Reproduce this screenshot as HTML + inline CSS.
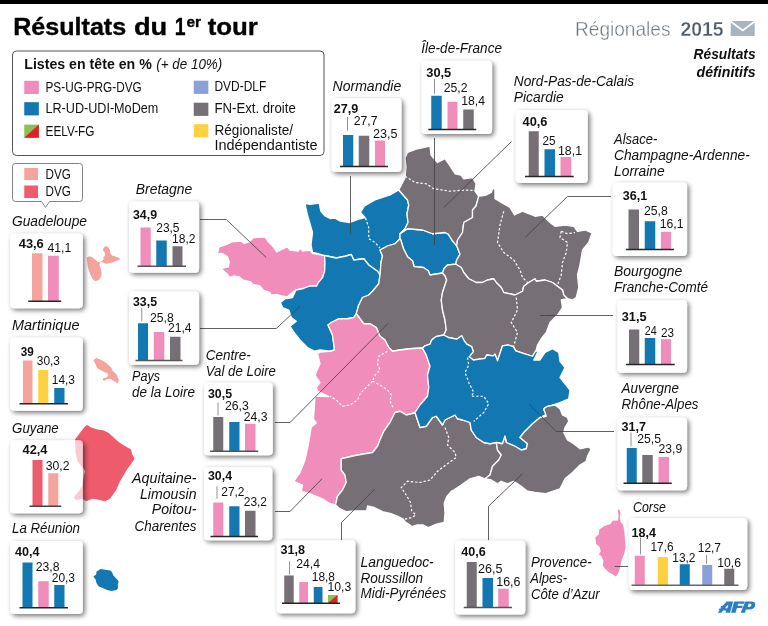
<!DOCTYPE html><html><head><meta charset="utf-8"><title>R&#233;sultats du 1er tour</title>
<style>html,body{margin:0;padding:0;background:#fff}svg{display:block;will-change:transform}text{font-family:"Liberation Sans",sans-serif}</style></head><body>
<svg width="768" height="626" viewBox="0 0 768 626">
<defs><filter id="sh" x="-20%" y="-20%" width="140%" height="140%"><feGaussianBlur in="SourceAlpha" stdDeviation="2.8"/><feOffset dx="1.6" dy="1.8"/><feComponentTransfer><feFuncA type="linear" slope="0.55"/></feComponentTransfer><feMerge><feMergeNode/><feMergeNode in="SourceGraphic"/></feMerge></filter></defs>
<rect width="768" height="626" fill="#fff"/>
<rect width="768" height="4" fill="#000"/>
<text x="13.2" y="35.3" font-size="24.6" font-weight="bold" textLength="113" lengthAdjust="spacingAndGlyphs" fill="#000" stroke="#000" stroke-width="0.35">Résultats</text>
<text x="133.9" y="35.3" font-size="24.6" font-weight="bold" textLength="33.3" lengthAdjust="spacingAndGlyphs" fill="#000" stroke="#000" stroke-width="0.35">du</text>
<text x="174.7" y="35.3" font-size="24.6" font-weight="bold" textLength="10.8" lengthAdjust="spacingAndGlyphs" fill="#000" stroke="#000" stroke-width="0.35">1</text>
<text x="186.5" y="27.2" font-size="15" font-weight="bold" textLength="14.6" lengthAdjust="spacingAndGlyphs" fill="#000" stroke="#000" stroke-width="0.35">er</text>
<text x="207.7" y="35.3" font-size="24.6" font-weight="bold" textLength="50.2" lengthAdjust="spacingAndGlyphs" fill="#000" stroke="#000" stroke-width="0.35">tour</text>
<text x="575" y="36" font-size="21" textLength="95.5" lengthAdjust="spacingAndGlyphs" fill="#6c757d" stroke="#fff" stroke-width="0.4">Régionales</text>
<text x="680.5" y="36" font-size="21" font-weight="bold" textLength="43" lengthAdjust="spacingAndGlyphs" fill="#525d67" stroke="#fff" stroke-width="0.3">2015</text>
<rect x="730.7" y="21" width="24" height="15" fill="#a9b4bf"/><path d="M730.7 21.5 L742.7 30.5 L754.7 21.5" fill="none" stroke="#fff" stroke-width="1.6"/>
<text x="755.6" y="59" font-size="14" font-weight="bold" font-style="italic" textLength="62" lengthAdjust="spacingAndGlyphs" text-anchor="end" fill="#111">Résultats</text>
<text x="755.6" y="76.7" font-size="14" font-weight="bold" font-style="italic" textLength="59" lengthAdjust="spacingAndGlyphs" text-anchor="end" fill="#111">définitifs</text>
<rect x="12.5" y="51" width="311.5" height="104.5" rx="4" fill="#fff" stroke="#555" stroke-width="1"/>
<text x="24.25" y="69.25" font-size="14.5" font-weight="bold" textLength="127.5" lengthAdjust="spacingAndGlyphs" fill="#111">Listes en tête en %</text>
<text x="156.25" y="69.25" font-size="14.5" font-style="italic" textLength="66" lengthAdjust="spacingAndGlyphs" fill="#111">(+ de 10%)</text>
<rect x="24.25" y="80.8" width="14.6" height="13.2" fill="#f18dbb"/>
<rect x="24.25" y="102.2" width="14.6" height="13.2" fill="#1378b2"/>
<rect x="24.25" y="124.6" width="14.6" height="13.2" fill="#8cc152"/><path d="M24.25 137.8 L38.85 124.6 L38.85 137.8 Z" fill="#e2202c"/>
<rect x="193.75" y="80.7" width="14.6" height="13.2" fill="#8b9fd8"/>
<rect x="193.75" y="102.7" width="14.6" height="13.2" fill="#767076"/>
<rect x="193.75" y="124.2" width="14.6" height="13.2" fill="#fdd13f"/>
<text x="45.5" y="92" font-size="14" textLength="96.25" lengthAdjust="spacingAndGlyphs" fill="#111">PS-UG-PRG-DVG</text>
<text x="45.5" y="112.5" font-size="14" textLength="112.75" lengthAdjust="spacingAndGlyphs" fill="#111">LR-UD-UDI-MoDem</text>
<text x="45.5" y="135.75" font-size="14" textLength="49" lengthAdjust="spacingAndGlyphs" fill="#111">EELV-FG</text>
<text x="214.5" y="91.25" font-size="14" textLength="51.75" lengthAdjust="spacingAndGlyphs" fill="#111">DVD-DLF</text>
<text x="214.5" y="113" font-size="14" textLength="81.25" lengthAdjust="spacingAndGlyphs" fill="#111">FN-Ext. droite</text>
<text x="214.5" y="135" font-size="14" textLength="78.5" lengthAdjust="spacingAndGlyphs" fill="#111">Régionaliste/</text>
<text x="214.5" y="149.5" font-size="14" textLength="103" lengthAdjust="spacingAndGlyphs" fill="#111">Indépendantiste</text>
<path d="M15.5 163.5 H79.5 Q82.5 163.5 82.5 166.5 V198.5 Q82.5 201.5 79.5 201.5 H49.5 L45.5 207.5 L41.5 201.5 H15.5 Q12.5 201.5 12.5 198.5 V166.5 Q12.5 163.5 15.5 163.5 Z" fill="#fff" stroke="#777" stroke-width="0.9"/>
<rect x="24.25" y="168" width="13.75" height="12" fill="#f5a49d"/>
<rect x="24.25" y="185.5" width="13.75" height="12.5" fill="#ee5b6c"/>
<text x="45.5" y="178.75" font-size="14" textLength="25.25" lengthAdjust="spacingAndGlyphs" fill="#111">DVG</text>
<text x="45.5" y="196.25" font-size="14" textLength="25.25" lengthAdjust="spacingAndGlyphs" fill="#111">DVG</text>
<g stroke="#fff" stroke-width="1.3" stroke-linejoin="round">
<polygon fill="#f18dbb" points="217.50,252.70 219.20,246.80 226.70,244.30 231.70,241.80 240.80,241.00 244.20,243.50 249.20,241.80 253.30,237.70 265.00,236.80 268.30,241.80 273.30,246.80 276.70,251.80 281.70,249.30 287.50,246.80 290.00,250.20 298.30,251.00 300.00,248.00 302.50,251.00 310.00,250.20 312.50,253.50 318.30,254.30 324.50,255.50 325.00,262.70 324.70,271.00 322.50,277.70 318.30,282.70 316.70,286.00 310.00,286.00 303.30,288.50 296.00,290.00 290.00,294.30 287.50,296.80 281.70,296.00 276.70,294.30 270.80,295.20 270.00,292.70 263.30,290.20 260.00,286.00 252.50,284.30 250.80,281.80 243.30,280.20 239.20,276.80 233.30,276.00 230.00,277.70 226.70,273.50 220.80,268.50 228.30,266.80 229.20,261.80 227.50,256.80 222.50,253.50 217.50,254.00"/>
<polygon fill="#1378b2" points="304.70,203.00 310.00,204.40 319.20,203.00 320.80,211.00 325.00,216.00 330.00,218.50 335.00,218.20 340.00,221.00 350.00,222.50 360.00,218.75 365.00,217.50 360.50,212.50 364.50,206.00 375.00,200.00 390.00,195.00 398.75,190.00 407.50,200.00 408.75,205.00 407.00,213.75 408.00,222.50 405.00,228.75 400.00,233.75 400.00,238.75 395.00,243.75 387.50,246.00 380.00,250.00 382.50,256.00 381.00,262.50 380.00,275.00 377.50,271.25 368.75,265.00 363.75,258.75 353.75,260.00 351.25,254.50 345.00,256.25 336.25,258.00 324.50,255.50 318.75,253.75 312.50,252.50 311.00,245.00 312.50,232.50 307.50,215.00"/>
<polygon fill="#1378b2" points="400.00,233.75 407.50,228.75 422.50,230.00 432.50,233.75 445.00,232.50 448.30,234.20 452.50,240.80 456.70,245.80 460.00,254.20 456.70,260.00 455.80,264.20 447.50,265.00 444.20,268.30 442.50,273.00 430.00,275.00 428.30,270.80 423.30,267.50 414.20,266.70 412.50,260.80 407.50,256.70 403.30,248.30 400.80,240.00 400.00,238.75"/>
<polygon fill="#767076" points="407.50,152.50 417.50,148.75 430.00,146.00 431.00,155.00 437.50,162.50 445.00,158.75 450.00,166.00 455.00,173.75 461.00,175.00 463.75,178.75 472.50,177.50 476.00,183.75 475.00,191.00 478.75,196.25 476.00,206.00 472.50,210.00 472.50,217.50 463.75,222.50 462.50,232.50 457.50,240.00 456.70,245.80 452.50,240.80 448.30,234.20 445.00,232.50 432.50,233.75 422.50,230.00 407.50,228.75 400.00,233.75 405.00,228.75 408.00,222.50 407.00,213.75 408.75,205.00 407.50,200.00 398.75,190.00 405.00,178.00 406.00,167.00 405.00,158.00"/>
<polygon fill="#767076" points="478.75,196.25 486.25,195.00 491.25,192.50 493.00,187.50 495.00,190.00 495.00,198.75 501.25,202.50 510.00,207.50 514.50,215.00 522.50,211.25 535.00,216.25 542.50,215.00 550.00,222.50 555.00,226.25 565.00,225.00 573.75,226.25 577.50,231.25 585.00,230.00 592.00,233.00 588.75,242.50 582.50,250.00 580.00,265.00 577.50,275.00 578.75,287.50 576.25,297.50 572.50,300.00 567.50,298.75 563.75,295.00 562.50,290.00 552.50,282.50 545.00,280.00 536.25,281.25 535.00,278.75 528.75,282.50 523.75,286.25 522.50,291.25 515.00,295.00 503.75,292.50 501.25,287.50 496.25,282.50 493.75,278.75 487.50,280.00 482.50,282.50 476.25,282.50 468.75,278.75 463.75,272.50 461.25,267.50 455.80,264.20 456.70,260.00 460.00,254.20 456.70,245.80 457.50,240.00 462.50,232.50 463.75,222.50 472.50,217.50 472.50,210.00 476.00,206.00"/>
<polygon fill="#1378b2" points="324.50,255.50 336.25,258.00 345.00,256.25 351.25,254.50 353.75,260.00 363.75,258.75 368.75,265.00 377.50,271.25 380.00,275.00 378.75,283.75 372.50,291.25 368.75,295.00 362.50,297.50 358.75,305.00 356.25,313.75 353.75,317.50 347.50,318.75 338.75,318.75 331.25,322.50 328.00,325.00 332.50,335.00 334.50,350.00 330.00,351.25 320.00,350.00 315.00,351.25 307.50,347.50 300.00,340.00 295.00,333.75 290.00,326.25 296.25,321.25 291.25,317.50 288.75,310.00 282.50,307.50 280.50,302.50 285.00,298.75 292.50,297.50 296.00,290.00 303.30,288.50 310.00,286.00 316.70,286.00 318.30,282.70 322.50,277.70 324.70,271.00 325.00,262.70"/>
<polygon fill="#767076" points="380.00,275.00 381.00,262.50 382.50,256.00 380.00,250.00 387.50,246.00 395.00,243.75 400.00,238.75 400.80,240.00 403.30,248.30 407.50,256.70 412.50,260.80 414.20,266.70 423.30,267.50 428.30,270.80 430.00,275.00 442.50,273.00 445.00,275.80 446.70,280.00 445.00,285.00 442.50,292.50 441.25,300.00 442.50,310.00 445.00,320.00 446.25,330.00 443.75,335.00 435.80,336.70 431.70,340.00 430.00,344.20 425.00,345.80 422.50,348.00 410.00,348.75 400.00,350.00 392.50,351.25 388.75,347.50 385.00,340.00 380.00,336.25 376.25,327.50 370.00,323.75 363.75,323.75 356.25,313.75 358.75,305.00 362.50,297.50 368.75,295.00 372.50,291.25 378.75,283.75"/>
<polygon fill="#767076" points="442.50,273.00 444.20,268.30 447.50,265.00 455.80,264.20 461.25,267.50 463.75,272.50 468.75,278.75 476.25,282.50 482.50,282.50 487.50,280.00 493.75,278.75 496.25,282.50 501.25,287.50 503.75,292.50 515.00,295.00 522.50,291.25 523.75,286.25 528.75,282.50 535.00,278.75 536.25,281.25 545.00,280.00 552.50,282.50 562.50,290.00 563.75,295.00 567.50,298.75 561.25,300.00 562.50,307.50 557.50,315.00 550.00,322.50 546.25,332.50 541.25,338.75 537.50,345.00 536.25,350.00 532.50,356.25 523.30,353.30 515.80,350.80 513.30,346.70 508.30,345.00 502.50,345.80 500.00,353.30 497.50,360.80 495.00,354.20 493.30,355.80 486.70,355.00 485.00,358.30 473.30,360.00 469.20,356.70 473.30,351.70 471.70,346.70 466.70,344.20 464.20,340.80 461.70,335.80 456.70,339.20 448.30,337.50 443.75,335.00 446.25,330.00 445.00,320.00 442.50,310.00 441.25,300.00 442.50,292.50 445.00,285.00 446.70,280.00 445.00,275.80"/>
<polygon fill="#f18dbb" points="328.00,325.00 331.25,322.50 338.75,318.75 347.50,318.75 353.75,317.50 356.25,313.75 363.75,323.75 370.00,323.75 376.25,327.50 380.00,336.25 385.00,340.00 388.75,347.50 392.50,351.25 400.00,350.00 410.00,348.75 422.50,348.00 426.25,355.00 430.00,366.25 427.50,375.00 428.75,387.50 427.50,396.25 420.00,405.00 416.25,412.50 406.25,415.00 400.00,411.25 395.00,412.50 390.00,422.50 383.75,431.25 380.00,440.00 377.50,446.25 372.50,452.50 365.00,453.75 355.00,455.50 341.25,458.75 341.25,470.00 345.00,475.00 346.25,482.50 342.50,490.00 337.50,496.25 335.50,505.00 330.00,503.75 322.50,498.75 310.00,493.75 301.25,491.25 302.50,485.00 293.75,481.25 300.00,472.50 305.00,460.00 308.75,442.50 311.25,427.00 316.25,423.00 313.50,419.00 315.00,396.00 328.75,396.50 317.50,391.00 316.25,387.50 320.00,382.50 315.00,375.00 320.00,363.75 317.50,353.75 320.00,352.00 330.00,351.25 334.50,350.00 332.50,335.00"/>
<polygon fill="#767076" points="341.25,458.75 355.00,455.50 365.00,453.75 372.50,452.50 377.50,446.25 380.00,440.00 383.75,431.25 390.00,422.50 395.00,412.50 400.00,411.25 406.25,415.00 416.25,412.50 415.00,412.50 417.50,420.00 420.00,427.50 426.25,426.25 432.50,417.50 436.25,416.25 442.50,425.00 445.00,420.00 450.00,417.50 455.00,415.00 457.50,418.75 462.50,420.00 470.00,422.50 471.25,430.00 476.25,437.50 483.75,442.50 490.00,443.75 496.25,442.50 497.50,450.00 501.25,455.00 498.75,460.00 492.50,466.25 490.00,475.00 485.00,478.75 478.75,476.25 470.00,478.75 461.25,485.00 453.75,490.00 451.70,490.80 446.70,496.70 444.20,503.30 445.00,513.30 444.20,522.50 436.70,524.20 428.30,527.50 423.30,525.00 416.70,525.00 411.70,526.70 410.00,525.00 405.00,521.70 403.30,519.20 396.70,515.80 390.00,513.30 382.50,511.70 374.20,507.50 367.50,505.80 366.70,510.80 355.00,510.80 345.80,511.70 339.20,508.30 335.50,505.00 337.50,496.25 342.50,490.00 346.25,482.50 345.00,475.00 341.25,470.00"/>
<polygon fill="#1378b2" points="422.50,348.00 425.00,345.80 430.00,344.20 431.70,340.00 435.80,336.70 443.75,335.00 448.30,337.50 456.70,339.20 461.70,335.80 464.20,340.80 466.70,344.20 471.70,346.70 473.30,351.70 469.20,356.70 473.30,360.00 485.00,358.30 486.70,355.00 493.30,355.80 495.00,354.20 497.50,360.80 500.00,353.30 502.50,345.80 508.30,345.00 513.30,346.70 515.80,350.80 523.30,353.30 532.50,356.25 536.25,350.00 537.50,352.50 533.75,360.00 540.00,360.00 545.00,352.50 552.50,348.75 558.75,352.50 560.00,361.25 565.00,367.50 560.00,377.50 565.00,383.75 570.00,390.00 568.75,398.75 560.00,402.50 552.50,405.00 545.00,407.50 543.75,410.00 547.50,413.75 540.00,417.50 532.50,423.75 523.75,432.50 520.00,437.50 527.50,443.75 526.25,448.75 521.25,450.00 515.00,446.25 506.25,442.50 505.00,436.25 502.50,443.75 496.25,442.50 490.00,443.75 483.75,442.50 476.25,437.50 471.25,430.00 470.00,422.50 462.50,420.00 457.50,418.75 455.00,415.00 450.00,417.50 445.00,420.00 442.50,425.00 436.25,416.25 432.50,417.50 426.25,426.25 420.00,427.50 417.50,420.00 415.00,412.50 420.00,405.00 427.50,396.25 428.75,387.50 427.50,375.00 430.00,366.25 426.25,355.00"/>
<polygon fill="#767076" points="496.25,442.50 502.50,443.75 505.00,436.25 506.25,442.50 515.00,446.25 521.25,450.00 526.25,448.75 527.50,443.75 520.00,437.50 523.75,432.50 532.50,423.75 540.00,417.50 546.25,416.25 543.75,408.75 547.50,406.25 555.00,405.00 560.00,408.75 562.50,415.00 567.50,417.50 568.75,421.25 565.00,427.50 563.75,432.50 567.50,440.00 573.75,443.75 580.00,448.75 587.50,447.00 591.25,448.75 587.50,456.25 586.25,461.25 580.00,465.00 572.50,472.50 565.00,478.75 560.00,488.75 552.50,491.25 545.00,493.75 535.00,492.50 527.50,491.25 521.25,486.25 513.75,481.25 507.50,483.75 501.25,481.25 497.50,483.75 491.25,480.00 485.00,478.75 490.00,475.00 492.50,466.25 498.75,460.00 501.25,455.00 497.50,450.00"/>
<polygon fill="#f18dbb" points="618.20,508.10 620.20,509.40 621.20,513.40 620.60,517.40 621.20,521.50 623.60,524.20 624.90,530.90 625.60,538.90 626.30,547.00 624.90,553.70 622.20,560.40 620.90,567.10 618.90,573.20 616.20,577.60 612.80,575.20 608.80,573.20 604.80,569.10 602.10,565.80 602.80,561.10 600.80,556.40 598.10,555.00 600.10,551.00 598.80,547.00 595.40,544.30 594.70,536.90 598.10,534.20 598.80,528.90 604.10,525.50 610.20,523.50 612.20,520.10 617.50,519.90 617.90,514.80 617.10,510.70"/>
</g>
<g fill="none" stroke="#fff" stroke-width="1.2" stroke-dasharray="2.4 1.9">
<polyline points="405.00,176.25 415.00,182.50 426.25,183.75 433.75,188.75 450.00,191.25 465.00,190.00 475.00,190.50"/>
<polyline points="365.50,218.00 368.75,227.50 368.75,238.75 375.00,242.50 380.00,248.00"/>
<polyline points="503.75,211.25 500.00,225.00 497.50,242.50 503.75,252.50 513.75,260.00 520.00,270.00 522.50,277.50 527.50,282.50"/>
<polyline points="561.25,231.25 560.00,237.50 567.50,242.50 566.25,252.50 562.50,262.50 561.25,275.00 557.50,285.00"/>
<polyline points="561.25,231.25 567.50,233.75 575.00,232.50"/>
<polyline points="516.25,297.50 517.50,310.00 511.25,322.50 517.50,332.50 513.75,346.25"/>
<polyline points="467.50,357.50 468.75,365.00 465.00,372.50 468.75,382.50 473.75,392.50 471.25,396.25 483.75,396.25 488.75,403.75 483.75,412.50 473.75,421.25"/>
<polyline points="387.50,351.25 378.75,356.25 377.50,363.75 380.00,370.00 375.00,375.00 372.50,381.25"/>
<polyline points="372.50,381.25 380.00,385.00 387.50,390.00 391.25,395.00 390.00,401.25 393.75,408.75"/>
<polyline points="372.50,381.25 366.25,387.50 360.00,393.75 357.50,400.00 350.00,405.00 342.50,406.25 336.25,400.00 330.00,396.25"/>
<polyline points="445.00,427.50 448.75,437.50 447.50,445.00 455.00,452.50 456.25,457.50 447.50,463.75 437.50,471.25 430.00,480.00 420.00,482.50 407.50,481.25 401.25,487.50 406.25,495.00 410.50,502.50 411.70,510.80 415.80,515.00 411.70,517.50 405.00,519.20"/>
</g>
<polygon fill="#f5a49d" points="86.60,257.50 89.40,256.25 92.50,257.50 95.60,260.00 98.10,261.90 100.00,262.20 103.10,260.00 103.40,257.50 105.00,255.60 104.70,252.50 103.10,250.60 103.40,248.10 105.60,245.90 108.10,246.90 110.00,250.00 110.30,253.10 111.90,255.60 115.60,256.60 118.75,257.80 120.30,259.40 117.50,260.60 113.75,261.90 110.00,263.10 106.25,263.75 103.75,263.10 101.90,261.90 100.00,262.80 99.40,265.00 100.60,268.10 101.60,272.50 101.25,276.25 99.00,280.00 95.00,281.25 92.50,278.75 90.00,273.75 88.10,268.10 87.20,262.50"/>
<polygon fill="#f5a49d" points="93.40,360.00 96.20,358.10 100.25,359.40 105.25,362.20 109.00,365.60 111.50,368.10 112.10,370.00 114.00,371.90 116.50,374.40 117.75,377.50 119.00,380.60 118.10,382.50 116.80,384.10 116.20,381.90 114.00,381.25 111.50,379.40 109.00,378.75 105.90,379.40 104.00,380.90 102.75,380.00 103.40,378.10 106.50,377.50 108.40,375.60 107.10,373.10 104.00,371.90 100.25,370.00 97.10,368.10 95.90,365.00 94.60,362.50"/>
<polygon fill="#ee5b6c" points="75.00,439.40 84.40,426.90 86.90,425.00 91.25,427.50 97.50,429.40 103.75,430.60 108.75,433.10 115.00,438.75 120.00,443.10 127.50,447.50 131.25,449.40 131.90,453.75 134.60,458.75 131.25,463.75 127.50,468.75 123.75,475.00 120.00,481.25 116.25,490.00 110.00,498.75 105.00,501.25 97.50,499.50 92.50,498.75 86.25,501.25 82.50,498.75 76.25,500.00 73.75,497.50 79.00,491.00 82.50,485.00 83.10,480.00 83.75,476.25 85.00,471.25 83.75,468.75 80.60,465.00 77.50,461.25 75.60,452.50"/>
<polygon fill="#1378b2" points="93.40,576.60 96.20,574.40 96.50,571.60 100.90,569.10 105.25,569.70 110.25,570.60 112.10,572.20 113.40,575.60 116.50,578.75 118.70,581.60 117.75,585.00 118.10,588.10 116.50,590.00 111.50,590.90 107.10,590.00 102.75,588.10 98.40,586.25 96.50,583.10 95.60,579.40"/>
<g fill="none" stroke="#444" stroke-width="0.85">
<polyline points="200.00,219.50 226.25,219.50 266.25,257.50"/>
<polyline points="200.00,328.50 276.25,328.50 300.00,306.25"/>
<polyline points="275.00,422.50 290.00,422.50 388.00,323.50"/>
<polyline points="275.00,511.50 290.00,511.50 322.00,478.75"/>
<polyline points="341.50,540.00 341.50,522.50 375.00,488.75"/>
<polyline points="488.50,540.00 488.50,506.25 522.50,473.75"/>
<polyline points="614.75,566.50 628.00,566.50"/>
<polyline points="528.75,403.75 556.25,431.50 614.00,431.50"/>
<polyline points="540.00,315.50 613.00,315.50"/>
<polyline points="525.00,237.50 567.50,196.50 611.00,196.50"/>
<polyline points="511.50,141.50 443.75,207.50"/>
<polyline points="434.50,138.00 434.50,245.00"/>
<polyline points="350.50,176.00 350.50,233.75"/>
</g>
<text x="12" y="225.5" font-size="14.3" font-style="italic" textLength="75" lengthAdjust="spacingAndGlyphs" fill="#111">Guadeloupe</text>
<text x="12" y="330.0" font-size="14.3" font-style="italic" textLength="67.5" lengthAdjust="spacingAndGlyphs" fill="#111">Martinique</text>
<text x="12" y="432.5" font-size="14.3" font-style="italic" textLength="46.75" lengthAdjust="spacingAndGlyphs" fill="#111">Guyane</text>
<text x="12" y="532.5" font-size="14.3" font-style="italic" textLength="68" lengthAdjust="spacingAndGlyphs" fill="#111">La Réunion</text>
<text x="135.75" y="194.25" font-size="14.3" font-style="italic" textLength="56.5" lengthAdjust="spacingAndGlyphs" fill="#111">Bretagne</text>
<text x="132" y="380.5" font-size="14.3" font-style="italic" textLength="28" lengthAdjust="spacingAndGlyphs" fill="#111">Pays</text>
<text x="132" y="396.75" font-size="14.3" font-style="italic" textLength="63" lengthAdjust="spacingAndGlyphs" fill="#111">de la Loire</text>
<text x="205.75" y="360.0" font-size="14.3" font-style="italic" textLength="45" lengthAdjust="spacingAndGlyphs" fill="#111">Centre-</text>
<text x="205.75" y="376.0" font-size="14.3" font-style="italic" textLength="70.25" lengthAdjust="spacingAndGlyphs" fill="#111">Val de Loire</text>
<text x="196.5" y="483.0" font-size="14.3" font-style="italic" textLength="64.5" lengthAdjust="spacingAndGlyphs" text-anchor="end" fill="#111">Aquitaine-</text>
<text x="196.5" y="498.5" font-size="14.3" font-style="italic" textLength="56.5" lengthAdjust="spacingAndGlyphs" text-anchor="end" fill="#111">Limousin</text>
<text x="196.5" y="514.0" font-size="14.3" font-style="italic" textLength="44.75" lengthAdjust="spacingAndGlyphs" text-anchor="end" fill="#111">Poitou-</text>
<text x="196.5" y="530.5" font-size="14.3" font-style="italic" textLength="62" lengthAdjust="spacingAndGlyphs" text-anchor="end" fill="#111">Charentes</text>
<text x="360.5" y="566.75" font-size="14.3" font-style="italic" textLength="73.25" lengthAdjust="spacingAndGlyphs" fill="#111">Languedoc-</text>
<text x="360.5" y="582.5" font-size="14.3" font-style="italic" textLength="62.5" lengthAdjust="spacingAndGlyphs" fill="#111">Roussillon</text>
<text x="360.5" y="598.0" font-size="14.3" font-style="italic" textLength="85.75" lengthAdjust="spacingAndGlyphs" fill="#111">Midi-Pyrénées</text>
<text x="531" y="566.9" font-size="14.3" font-style="italic" textLength="60.6" lengthAdjust="spacingAndGlyphs" fill="#111">Provence-</text>
<text x="530.25" y="582.9" font-size="14.3" font-style="italic" textLength="36.9" lengthAdjust="spacingAndGlyphs" fill="#111">Alpes-</text>
<text x="531" y="598.7" font-size="14.3" font-style="italic" textLength="68.7" lengthAdjust="spacingAndGlyphs" fill="#111">Côte d’Azur</text>
<text x="633" y="511.75" font-size="14.3" font-style="italic" textLength="33" lengthAdjust="spacingAndGlyphs" fill="#111">Corse</text>
<text x="621.5" y="392.5" font-size="14.3" font-style="italic" textLength="57.5" lengthAdjust="spacingAndGlyphs" fill="#111">Auvergne</text>
<text x="621.5" y="408.5" font-size="14.3" font-style="italic" textLength="77" lengthAdjust="spacingAndGlyphs" fill="#111">Rhône-Alpes</text>
<text x="614" y="275.5" font-size="14.3" font-style="italic" textLength="68.25" lengthAdjust="spacingAndGlyphs" fill="#111">Bourgogne</text>
<text x="614" y="291.75" font-size="14.3" font-style="italic" textLength="94" lengthAdjust="spacingAndGlyphs" fill="#111">Franche-Comté</text>
<text x="614" y="143.75" font-size="14.3" font-style="italic" textLength="43.25" lengthAdjust="spacingAndGlyphs" fill="#111">Alsace-</text>
<text x="614" y="160.0" font-size="14.3" font-style="italic" textLength="135.75" lengthAdjust="spacingAndGlyphs" fill="#111">Champagne-Ardenne-</text>
<text x="614" y="176.0" font-size="14.3" font-style="italic" textLength="50.75" lengthAdjust="spacingAndGlyphs" fill="#111">Lorraine</text>
<text x="513.75" y="86.1" font-size="14.3" font-style="italic" textLength="120.3" lengthAdjust="spacingAndGlyphs" fill="#111">Nord-Pas-de-Calais</text>
<text x="513.75" y="102.0" font-size="14.3" font-style="italic" textLength="50" lengthAdjust="spacingAndGlyphs" fill="#111">Picardie</text>
<text x="421.25" y="53.0" font-size="14.3" font-style="italic" textLength="80.75" lengthAdjust="spacingAndGlyphs" fill="#111">Île-de-France</text>
<text x="332.5" y="90.5" font-size="14.3" font-style="italic" textLength="68.75" lengthAdjust="spacingAndGlyphs" fill="#111">Normandie</text>
<rect x="10.30" y="233.80" width="72.50" height="74.50" rx="4" fill="#fff" filter="url(#sh)"/>
<rect x="32" y="253.25" width="10.50" height="47.85" fill="#f5a49d"/>
<rect x="48" y="255.75" width="10.75" height="45.35" fill="#f18dbb"/>
<line x1="28.25" y1="301.20" x2="61.25" y2="301.20" stroke="#262626" stroke-width="1.4"/>
<text x="18.75" y="247.6" font-size="13" font-weight="bold" textLength="25" lengthAdjust="spacingAndGlyphs" fill="#111">43,6</text>
<text x="47.5" y="251.85" font-size="13" textLength="23.75" lengthAdjust="spacingAndGlyphs" fill="#111">41,1</text>
<rect x="10.30" y="337.80" width="72.50" height="73.00" rx="4" fill="#fff" filter="url(#sh)"/>
<rect x="23" y="360.50" width="9.50" height="43.10" fill="#f5a49d"/>
<rect x="38.25" y="370.00" width="10.00" height="33.60" fill="#fdd13f"/>
<rect x="54.25" y="388.00" width="10.25" height="15.60" fill="#1378b2"/>
<line x1="19.5" y1="403.70" x2="68" y2="403.70" stroke="#262626" stroke-width="1.4"/>
<text x="20.75" y="355.6" font-size="13" font-weight="bold" textLength="13" lengthAdjust="spacingAndGlyphs" fill="#111">39</text>
<text x="36.75" y="365.1" font-size="13" textLength="23.25" lengthAdjust="spacingAndGlyphs" fill="#111">30,3</text>
<text x="51.75" y="384.35" font-size="13" textLength="23.25" lengthAdjust="spacingAndGlyphs" fill="#111">14,3</text>
<rect x="10.30" y="440.30" width="72.50" height="73.00" rx="4" fill="#fff" filter="url(#sh)"/>
<clipPath id="gc"><rect x="10.30" y="440.30" width="72.50" height="73.00" rx="4"/></clipPath><polygon clip-path="url(#gc)" fill="#ee5b6c" fill-opacity="0.32" points="75.00,439.40 84.40,426.90 86.90,425.00 91.25,427.50 97.50,429.40 103.75,430.60 108.75,433.10 115.00,438.75 120.00,443.10 127.50,447.50 131.25,449.40 131.90,453.75 134.60,458.75 131.25,463.75 127.50,468.75 123.75,475.00 120.00,481.25 116.25,490.00 110.00,498.75 105.00,501.25 97.50,499.50 92.50,498.75 86.25,501.25 82.50,498.75 76.25,500.00 73.75,497.50 79.00,491.00 82.50,485.00 83.10,480.00 83.75,476.25 85.00,471.25 83.75,468.75 80.60,465.00 77.50,461.25 75.60,452.50"/>
<rect x="32.5" y="460.00" width="10.00" height="46.10" fill="#ee5b6c"/>
<rect x="48.25" y="473.25" width="10.00" height="32.85" fill="#f5a49d"/>
<line x1="29.5" y1="506.20" x2="61.25" y2="506.20" stroke="#444" stroke-width="1.4"/>
<text x="22.5" y="453.6" font-size="13" font-weight="bold" textLength="25" lengthAdjust="spacingAndGlyphs" fill="#111">42,4</text>
<text x="45.75" y="470.1" font-size="13" textLength="23.75" lengthAdjust="spacingAndGlyphs" fill="#111">30,2</text>
<rect x="10.30" y="541.05" width="72.50" height="73.00" rx="4" fill="#fff" filter="url(#sh)"/>
<rect x="22.5" y="562.50" width="10.00" height="45.10" fill="#1378b2"/>
<rect x="38.25" y="581.25" width="10.50" height="26.35" fill="#f18dbb"/>
<rect x="54.25" y="585.00" width="10.25" height="22.60" fill="#1378b2"/>
<line x1="19.5" y1="607.70" x2="68" y2="607.70" stroke="#262626" stroke-width="1.4"/>
<text x="15" y="555.6" font-size="13" font-weight="bold" textLength="24.5" lengthAdjust="spacingAndGlyphs" fill="#111">40,4</text>
<text x="35.75" y="570.6" font-size="13" textLength="23.75" lengthAdjust="spacingAndGlyphs" fill="#111">23,8</text>
<text x="51.75" y="581.85" font-size="13" textLength="23.25" lengthAdjust="spacingAndGlyphs" fill="#111">20,3</text>
<rect x="129.05" y="201.55" width="70.00" height="71.25" rx="4" fill="#fff" filter="url(#sh)"/>
<rect x="140.5" y="227.50" width="10.25" height="38.60" fill="#f18dbb"/>
<rect x="156.25" y="240.50" width="10.50" height="25.60" fill="#1378b2"/>
<rect x="172.5" y="246.25" width="10.00" height="19.85" fill="#767076"/>
<line x1="137.5" y1="266.20" x2="186" y2="266.20" stroke="#555" stroke-width="1.4"/>
<text x="133" y="219.35" font-size="13" font-weight="bold" textLength="24" lengthAdjust="spacingAndGlyphs" fill="#111">34,9</text>
<text x="156.25" y="232.35" font-size="13" textLength="23.25" lengthAdjust="spacingAndGlyphs" fill="#111">23,5</text>
<text x="172" y="243.1" font-size="13" textLength="23.5" lengthAdjust="spacingAndGlyphs" fill="#111">18,2</text>
<rect x="129.05" y="291.55" width="70.00" height="73.25" rx="4" fill="#fff" filter="url(#sh)"/>
<line x1="141.75" y1="308.00" x2="141.75" y2="321.25" stroke="#777" stroke-width="0.8"/>
<rect x="138" y="323.25" width="10.00" height="37.10" fill="#1378b2"/>
<rect x="153.75" y="332.00" width="10.50" height="28.35" fill="#f18dbb"/>
<rect x="170" y="336.75" width="10.50" height="23.60" fill="#767076"/>
<line x1="135.5" y1="360.45" x2="182.5" y2="360.45" stroke="#555" stroke-width="1.4"/>
<text x="133" y="306.35" font-size="13" font-weight="bold" textLength="24" lengthAdjust="spacingAndGlyphs" fill="#111">33,5</text>
<text x="150" y="321.85" font-size="13" textLength="23.75" lengthAdjust="spacingAndGlyphs" fill="#111">25,8</text>
<text x="168" y="331.85" font-size="13" textLength="23.5" lengthAdjust="spacingAndGlyphs" fill="#111">21,4</text>
<rect x="204.05" y="382.80" width="68.75" height="72.50" rx="4" fill="#fff" filter="url(#sh)"/>
<line x1="218" y1="402.50" x2="218" y2="415.50" stroke="#777" stroke-width="0.8"/>
<rect x="213.25" y="417.00" width="10.00" height="34.10" fill="#767076"/>
<rect x="229.25" y="422.00" width="10.25" height="29.10" fill="#1378b2"/>
<rect x="245" y="423.75" width="10.50" height="27.35" fill="#f18dbb"/>
<line x1="210" y1="451.20" x2="258.25" y2="451.20" stroke="#555" stroke-width="1.4"/>
<text x="208" y="397.6" font-size="13" font-weight="bold" textLength="24" lengthAdjust="spacingAndGlyphs" fill="#111">30,5</text>
<text x="225" y="410.1" font-size="13" textLength="23.75" lengthAdjust="spacingAndGlyphs" fill="#111">26,3</text>
<text x="243.75" y="421.1" font-size="13" textLength="23.75" lengthAdjust="spacingAndGlyphs" fill="#111">24,3</text>
<rect x="204.05" y="467.30" width="68.25" height="73.00" rx="4" fill="#fff" filter="url(#sh)"/>
<line x1="217" y1="486.25" x2="217" y2="498.75" stroke="#777" stroke-width="0.8"/>
<rect x="213.25" y="502.50" width="10.00" height="33.85" fill="#f18dbb"/>
<rect x="229.25" y="506.25" width="10.25" height="30.10" fill="#1378b2"/>
<rect x="245" y="510.75" width="10.50" height="25.60" fill="#767076"/>
<line x1="210.5" y1="536.45" x2="258" y2="536.45" stroke="#262626" stroke-width="1.4"/>
<text x="208" y="480.1" font-size="13" font-weight="bold" textLength="24" lengthAdjust="spacingAndGlyphs" fill="#111">30,4</text>
<text x="221.25" y="495.6" font-size="13" textLength="23.25" lengthAdjust="spacingAndGlyphs" fill="#111">27,2</text>
<text x="243.75" y="506.1" font-size="13" textLength="23.25" lengthAdjust="spacingAndGlyphs" fill="#111">23,2</text>
<rect x="276.80" y="540.30" width="78.50" height="73.00" rx="4" fill="#fff" filter="url(#sh)"/>
<line x1="289.5" y1="561.25" x2="289.5" y2="574.50" stroke="#777" stroke-width="0.8"/>
<rect x="284.25" y="575.50" width="9.50" height="27.60" fill="#767076"/>
<rect x="299.25" y="582.00" width="8.75" height="21.10" fill="#f18dbb"/>
<rect x="313.75" y="587.00" width="8.75" height="16.10" fill="#1378b2"/>
<rect x="328" y="595.00" width="9.50" height="8.10" fill="#8cc152"/><path d="M328 603.10 L337.5 595.00 L337.5 603.10 Z" fill="#e2202c"/>
<line x1="282" y1="603.20" x2="340" y2="603.20" stroke="#262626" stroke-width="1.4"/>
<text x="280.5" y="553.85" font-size="13" font-weight="bold" textLength="24.5" lengthAdjust="spacingAndGlyphs" fill="#111">31,8</text>
<text x="296.25" y="568.1" font-size="13" textLength="23.75" lengthAdjust="spacingAndGlyphs" fill="#111">24,4</text>
<text x="311.75" y="581.1" font-size="13" textLength="23.25" lengthAdjust="spacingAndGlyphs" fill="#111">18,8</text>
<text x="327.5" y="591.35" font-size="13" textLength="23.75" lengthAdjust="spacingAndGlyphs" fill="#111">10,3</text>
<rect x="455.20" y="540.70" width="70.10" height="73.80" rx="4" fill="#fff" filter="url(#sh)"/>
<rect x="466.75" y="562.00" width="10.00" height="45.35" fill="#767076"/>
<rect x="482.5" y="578.00" width="10.50" height="29.35" fill="#1378b2"/>
<rect x="498.25" y="588.75" width="10.50" height="18.60" fill="#f18dbb"/>
<line x1="463.75" y1="607.45" x2="512" y2="607.45" stroke="#555" stroke-width="1.4"/>
<text x="461.25" y="556.1" font-size="13" font-weight="bold" textLength="24.5" lengthAdjust="spacingAndGlyphs" fill="#111">40,6</text>
<text x="478" y="572.6" font-size="13" textLength="24.5" lengthAdjust="spacingAndGlyphs" fill="#111">26,5</text>
<text x="496.25" y="586.1" font-size="13" textLength="24.25" lengthAdjust="spacingAndGlyphs" fill="#111">16,6</text>
<rect x="628.90" y="518.30" width="118.30" height="71.80" rx="4" fill="#fff" filter="url(#sh)"/>
<line x1="640.5" y1="537.50" x2="640.5" y2="554.50" stroke="#777" stroke-width="0.8"/>
<line x1="706.5" y1="555.00" x2="706.5" y2="563.75" stroke="#777" stroke-width="0.8"/>
<rect x="634.75" y="555.75" width="10.00" height="29.35" fill="#f18dbb"/>
<rect x="657.75" y="557.00" width="10.25" height="28.10" fill="#fdd13f"/>
<rect x="679.75" y="564.25" width="10.00" height="20.85" fill="#1378b2"/>
<rect x="702.25" y="565.00" width="10.00" height="20.10" fill="#8b9fd8"/>
<rect x="724.25" y="568.75" width="10.00" height="16.35" fill="#767076"/>
<line x1="631.5" y1="585.20" x2="738.5" y2="585.20" stroke="#666" stroke-width="1.4"/>
<text x="631.5" y="536.85" font-size="13" font-weight="bold" textLength="24.5" lengthAdjust="spacingAndGlyphs" fill="#111">18,4</text>
<text x="650.5" y="550.6" font-size="13" textLength="23" lengthAdjust="spacingAndGlyphs" fill="#111">17,6</text>
<text x="672.25" y="561.85" font-size="13" textLength="23.25" lengthAdjust="spacingAndGlyphs" fill="#111">13,2</text>
<text x="697.75" y="551.85" font-size="13" textLength="23.25" lengthAdjust="spacingAndGlyphs" fill="#111">12,7</text>
<text x="717.25" y="566.85" font-size="13" textLength="23.75" lengthAdjust="spacingAndGlyphs" fill="#111">10,6</text>
<rect x="617.55" y="417.80" width="69.50" height="72.50" rx="4" fill="#fff" filter="url(#sh)"/>
<line x1="631" y1="432.50" x2="631" y2="446.25" stroke="#777" stroke-width="0.8"/>
<rect x="626.75" y="448.00" width="10.00" height="35.10" fill="#1378b2"/>
<rect x="642.25" y="455.00" width="10.50" height="28.10" fill="#767076"/>
<rect x="658.5" y="457.00" width="10.50" height="26.10" fill="#f18dbb"/>
<line x1="623.5" y1="483.20" x2="671.75" y2="483.20" stroke="#262626" stroke-width="1.4"/>
<text x="621.5" y="430.6" font-size="13" font-weight="bold" textLength="24.5" lengthAdjust="spacingAndGlyphs" fill="#111">31,7</text>
<text x="637.25" y="442.6" font-size="13" textLength="23.75" lengthAdjust="spacingAndGlyphs" fill="#111">25,5</text>
<text x="658.5" y="453.1" font-size="13" textLength="23.75" lengthAdjust="spacingAndGlyphs" fill="#111">23,9</text>
<rect x="617.55" y="300.30" width="69.50" height="72.50" rx="4" fill="#fff" filter="url(#sh)"/>
<rect x="629" y="329.50" width="10.25" height="34.85" fill="#767076"/>
<rect x="644.75" y="338.00" width="10.50" height="26.35" fill="#1378b2"/>
<rect x="661" y="339.25" width="10.00" height="25.10" fill="#f18dbb"/>
<line x1="626" y1="364.45" x2="674.75" y2="364.45" stroke="#262626" stroke-width="1.4"/>
<text x="621.75" y="321.1" font-size="13" font-weight="bold" textLength="24.75" lengthAdjust="spacingAndGlyphs" fill="#111">31,5</text>
<text x="644.75" y="334.85" font-size="13" textLength="12" lengthAdjust="spacingAndGlyphs" fill="#111">24</text>
<text x="661" y="336.85" font-size="13" textLength="13" lengthAdjust="spacingAndGlyphs" fill="#111">23</text>
<rect x="612.80" y="182.50" width="74.25" height="73.60" rx="4" fill="#fff" filter="url(#sh)"/>
<rect x="628.5" y="209.50" width="10.50" height="39.85" fill="#767076"/>
<rect x="644.75" y="221.25" width="10.50" height="28.10" fill="#1378b2"/>
<rect x="661" y="231.75" width="10.00" height="17.60" fill="#f18dbb"/>
<line x1="626" y1="249.45" x2="674" y2="249.45" stroke="#262626" stroke-width="1.4"/>
<text x="622.75" y="199.85" font-size="13" font-weight="bold" textLength="24.5" lengthAdjust="spacingAndGlyphs" fill="#111">36,1</text>
<text x="644" y="214.85" font-size="13" textLength="23.75" lengthAdjust="spacingAndGlyphs" fill="#111">25,8</text>
<text x="659.75" y="228.1" font-size="13" textLength="23.75" lengthAdjust="spacingAndGlyphs" fill="#111">16,1</text>
<rect x="515.80" y="110.30" width="72.00" height="72.70" rx="4" fill="#fff" filter="url(#sh)"/>
<rect x="528.75" y="131.25" width="10.00" height="45.10" fill="#767076"/>
<rect x="544.5" y="149.25" width="10.50" height="27.10" fill="#1378b2"/>
<rect x="560.5" y="157.00" width="10.75" height="19.35" fill="#f18dbb"/>
<line x1="525" y1="176.45" x2="573.75" y2="176.45" stroke="#262626" stroke-width="1.4"/>
<text x="522.5" y="125.6" font-size="13" font-weight="bold" textLength="25" lengthAdjust="spacingAndGlyphs" fill="#111">40,6</text>
<text x="542.5" y="144.79999999999998" font-size="13" textLength="13" lengthAdjust="spacingAndGlyphs" fill="#111">25</text>
<text x="558" y="154.85" font-size="13" textLength="24" lengthAdjust="spacingAndGlyphs" fill="#111">18,1</text>
<rect x="421.55" y="60.80" width="70.50" height="73.25" rx="4" fill="#fff" filter="url(#sh)"/>
<line x1="434.5" y1="78.75" x2="434.5" y2="93.75" stroke="#777" stroke-width="0.8"/>
<rect x="431.25" y="95.75" width="10.50" height="33.60" fill="#1378b2"/>
<rect x="447.5" y="101.75" width="10.00" height="27.60" fill="#f18dbb"/>
<rect x="463.25" y="109.50" width="10.50" height="19.85" fill="#767076"/>
<line x1="428.25" y1="129.45" x2="476.25" y2="129.45" stroke="#262626" stroke-width="1.4"/>
<text x="426.25" y="76.85" font-size="13" font-weight="bold" textLength="25" lengthAdjust="spacingAndGlyphs" fill="#111">30,5</text>
<text x="443.75" y="91.85" font-size="13" textLength="23.75" lengthAdjust="spacingAndGlyphs" fill="#111">25,2</text>
<text x="461.25" y="105.1" font-size="13" textLength="23.75" lengthAdjust="spacingAndGlyphs" fill="#111">18,4</text>
<rect x="331.70" y="98.30" width="69.80" height="73.70" rx="4" fill="#fff" filter="url(#sh)"/>
<line x1="347.5" y1="117.00" x2="347.5" y2="130.50" stroke="#777" stroke-width="0.8"/>
<rect x="343" y="135.00" width="10.25" height="31.35" fill="#1378b2"/>
<rect x="358.75" y="135.75" width="10.50" height="30.60" fill="#767076"/>
<rect x="375" y="140.50" width="10.00" height="25.85" fill="#f18dbb"/>
<line x1="340" y1="166.45" x2="388" y2="166.45" stroke="#262626" stroke-width="1.4"/>
<text x="333.75" y="113.1" font-size="13" font-weight="bold" textLength="24.5" lengthAdjust="spacingAndGlyphs" fill="#111">27,9</text>
<text x="353.75" y="125.1" font-size="13" textLength="23.75" lengthAdjust="spacingAndGlyphs" fill="#111">27,7</text>
<text x="373" y="138.1" font-size="13" textLength="24.5" lengthAdjust="spacingAndGlyphs" fill="#111">23,5</text>
<path fill="#2a7fc4" fill-rule="evenodd" d="M726.75 601.42 L733.16 601.42 L730.03 612.75 L725.58 612.75 L726.20 610.56 L723.00 610.56 L721.44 612.75 L717.77 612.75 L719.72 610.02 L718.55 610.02 L719.56 608.61 L720.73 608.61 L721.44 607.44 L720.27 607.44 L721.28 606.11 L722.45 606.11 Z M728.47 604.31 L727.38 608.22 L724.80 608.22 Z M734.17 601.42 L744.72 601.42 L744.09 603.77 L738.08 603.77 L737.53 605.72 L742.77 605.72 L742.14 608.06 L736.91 608.06 L735.58 612.75 L731.05 612.75 Z M745.34 601.42 L751.75 601.42 L754.48 602.20 L755.27 604.16 L754.72 606.89 L752.92 608.84 L750.19 609.47 L745.89 609.47 L744.95 612.75 L740.66 612.75 Z M748.62 603.77 L750.97 603.77 L751.44 604.55 L750.97 606.11 L749.80 606.97 L747.69 606.97 Z"/>
</svg></body></html>
